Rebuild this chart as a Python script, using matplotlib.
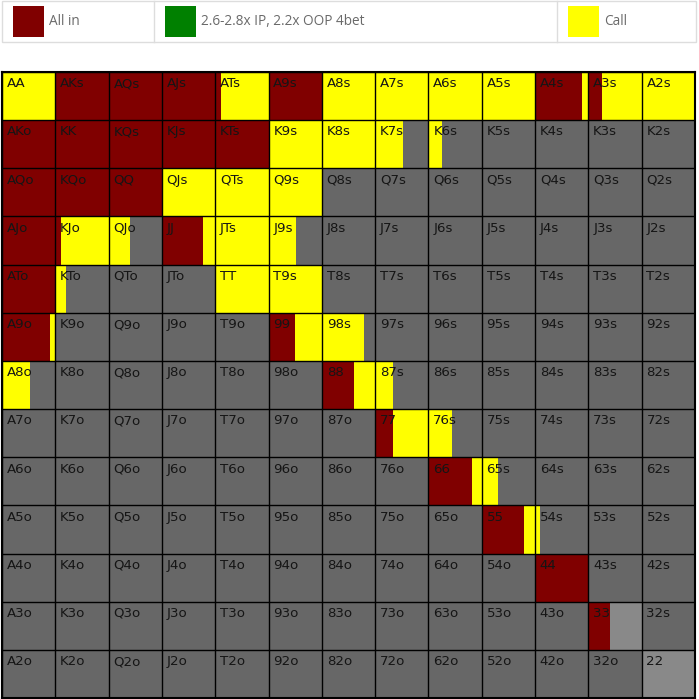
import numpy as np
import matplotlib.pyplot as plt
from matplotlib.patches import Rectangle

ranks = ['A', 'K', 'Q', 'J', 'T', '9', '8', '7', '6', '5', '4', '3', '2']

# fraction of each hand per action (rest is fold)
allin = {'AKs': 1, 'AQs': 1, 'AJs': 1, 'ATs': 0.1, 'A9s': 1, 'A4s': 0.88, 'A3s': 0.26,
         'AKo': 1, 'KK': 1, 'KQs': 1, 'KJs': 1, 'KTs': 1,
         'AQo': 1, 'KQo': 1, 'QQ': 1,
         'AJo': 1, 'KJo': 0.1, 'JJ': 0.77,
         'ATo': 1, 'A9o': 0.9, '99': 0.5, '88': 0.6, '77': 0.33,
         '66': 0.81, '55': 0.8, '44': 1, '33': 0.4}
call = {'AA': 1, 'ATs': 0.9, 'A8s': 1, 'A7s': 1, 'A6s': 1, 'A5s': 1, 'A4s': 0.12, 'A3s': 0.74, 'A2s': 1,
        'K9s': 1, 'K8s': 1, 'K7s': 0.53, 'K6s': 0.26,
        'QJs': 1, 'QTs': 1, 'Q9s': 1,
        'KJo': 0.9, 'QJo': 0.4, 'JJ': 0.23, 'JTs': 1, 'J9s': 0.52,
        'KTo': 0.2, 'TT': 1, 'T9s': 1,
        'A9o': 0.1, '99': 0.5, '98s': 0.79,
        'A8o': 0.53, '88': 0.4, '87s': 0.34,
        '77': 0.67, '76s': 0.45,
        '66': 0.19, '65s': 0.3,
        '55': 0.2, '54s': 0.1}
other = {'33': 0.6, '22': 1}

legend_labels = ['All in', '2.6-2.8x IP, 2.2x OOP 4bet', 'Call']
legend_colors = ['#800000', '#008000', '#ffff00']

RED = '#800000'
YEL = '#ffff00'
FOLD = '#676767'
LIGHT = '#898989'


def hand(i, j):
    if i == j:
        return ranks[i] + ranks[j]
    if j > i:
        return ranks[i] + ranks[j] + 's'
    return ranks[j] + ranks[i] + 'o'


names, rows, cols = [], [], []
for i in range(13):
    for j in range(13):
        names.append(hand(i, j))
        rows.append(i)
        cols.append(j)
rows = np.array(rows)
cols = np.array(cols)
a = np.array([allin.get(h, 0) for h in names])
c = np.array([call.get(h, 0) for h in names])
o = np.array([other.get(h, 0) for h in names])

fig = plt.figure(figsize=(6.99, 6.99), dpi=100)
fig.patch.set_facecolor('white')

# legend strip at the top
lax = fig.add_axes([0, 0, 1, 1])
lax.set_xlim(0, 699)
lax.set_ylim(699, 0)
lax.axis('off')
lax.add_patch(Rectangle((2, 1), 694, 41, fill=False, edgecolor='#dddddd', lw=1))
lax.plot([154, 154], [1, 42], color='#dddddd', lw=1)
lax.plot([557, 557], [1, 42], color='#dddddd', lw=1)
sw_x = [13, 165, 568]
for x, lab, col in zip(sw_x, legend_labels, legend_colors):
    lax.add_patch(Rectangle((x, 6), 31, 31, facecolor=col, edgecolor='none'))
    lax.text(x + 36, 21.5, lab, fontsize=9.8, color='#6a6a6a', va='center',
             family=['Open Sans', 'DejaVu Sans'])

# the 13x13 grid
ax = fig.add_axes([2 / 699, 1 - 698 / 699, 693 / 699, 626 / 699])
ax.set_xlim(0, 13)
ax.set_ylim(13, 0)
ax.barh(rows + 0.5, np.ones(169), left=cols, height=1, color=FOLD, lw=0)
ax.barh(rows + 0.5, a, left=cols, height=1, color=RED, lw=0)
ax.barh(rows + 0.5, c, left=cols + a, height=1, color=YEL, lw=0)
ax.barh(rows + 0.5, o, left=cols + a + c, height=1, color=LIGHT, lw=0)

for h, r, cc in zip(names, rows, cols):
    ax.text(cc + 0.09, r + 0.11, h, fontsize=9.6, color='#151515', va='top', ha='left',
            family=['Verdana', 'DejaVu Sans'])

ax.set_xticks(range(14))
ax.set_yticks(range(14))
ax.grid(True, color='black', lw=1)
ax.set_axisbelow(False)
ax.tick_params(length=0, labelbottom=False, labelleft=False)
for s in ax.spines.values():
    s.set_color('black')
    s.set_linewidth(1.5)

fig.savefig('out.png', dpi=100)
